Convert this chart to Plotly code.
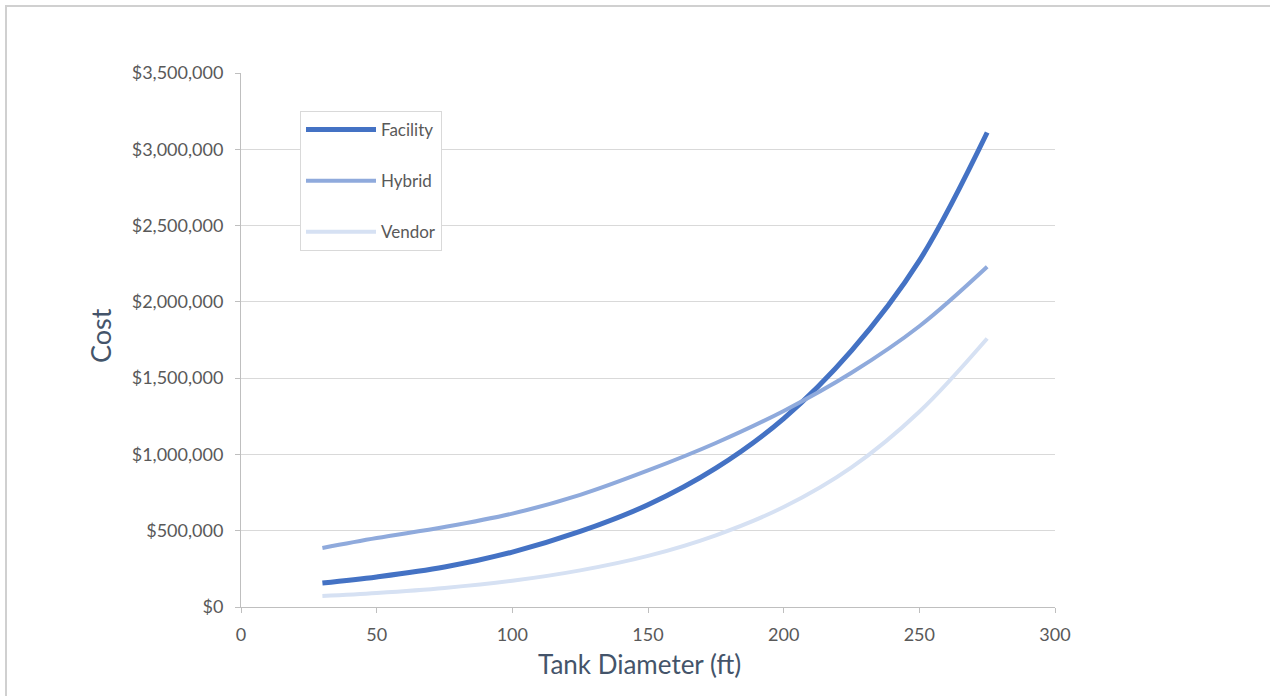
import plotly.graph_objects as go

diameter_ft = [30, 50, 75, 100, 125, 150, 175, 200, 225, 250, 275]
facility_cost = [157000, 197000, 262000, 360000, 495000, 670000, 910000, 1235000, 1680000, 2270000, 3110000]
hybrid_cost = [387000, 452000, 524000, 612000, 735000, 895000, 1075000, 1285000, 1535000, 1840000, 2230000]
vendor_cost = [72000, 92000, 125000, 172000, 240000, 335000, 470000, 655000, 915000, 1280000, 1760000]

series = [
    ("Facility", facility_cost, "#4472C4", 5),
    ("Hybrid", hybrid_cost, "#8FAADC", 4),
    ("Vendor", vendor_cost, "#D6E1F3", 4),
]

fig = go.Figure()
for i, (name, vals, color, w) in enumerate(series):
    fig.add_trace(go.Scatter(
        x=diameter_ft, y=vals, name=name, mode="lines",
        line=dict(color=color, width=w, shape="spline", smoothing=1.0),
        legendgroup=f"g{i}",
    ))

FONT = "Lato, Open Sans, sans-serif"
tick_font = dict(family=FONT, size=18, color="#595959")
fig.update_layout(
    width=1270, height=696,
    margin=dict(l=241, r=215, t=73, b=89),
    paper_bgcolor="white", plot_bgcolor="white",
    showlegend=True,
    legend=dict(
        x=(300 - 241) / 814, y=(607 - 111) / 534, xanchor="left", yanchor="top",
        bgcolor="white", bordercolor="#D9D9D9", borderwidth=1,
        font=dict(family=FONT, size=17, color="#595959"),
        tracegroupgap=26, itemwidth=70,
    ),
    xaxis=dict(
        range=[0, 300], dtick=50, tick0=0, showgrid=False,
        showline=True, linecolor="#BFBFBF", linewidth=1,
        ticks="outside", ticklen=5, tickcolor="#BFBFBF",
        tickfont=tick_font, zeroline=False, ticklabelstandoff=6,
    ),
    yaxis=dict(
        range=[0, 3500000], dtick=500000, tick0=0,
        showgrid=True, gridcolor="#D9D9D9", gridwidth=1,
        showline=True, linecolor="#BFBFBF", linewidth=1,
        ticks="outside", ticklen=5, tickcolor="#BFBFBF",
        tickprefix="$", tickformat=",.0f",
        tickfont=tick_font, zeroline=False, ticklabelstandoff=8,
    ),
    annotations=[
        dict(text="Cost", xref="paper", yref="paper",
             x=(100 - 241) / 814, y=(607 - 336) / 534, xanchor="center", yanchor="middle",
             showarrow=False, textangle=-90,
             font=dict(family=FONT, size=27, color="#44546A")),
        dict(text="Tank Diameter (ft)", xref="paper", yref="paper",
             x=(639 - 241) / 814, y=(607 - 664) / 534, xanchor="center", yanchor="middle",
             showarrow=False,
             font=dict(family=FONT, size=26, color="#44546A")),
    ],
    shapes=[
        dict(type="rect", xref="paper", yref="paper",
             x0=(6 - 241) / 814, x1=(1300 - 241) / 814,
             y0=(607 - 720) / 534, y1=(607 - 6) / 534,
             line=dict(color="#D0D0D0", width=2), fillcolor="rgba(0,0,0,0)", layer="below"),
    ],
)

fig.write_html("out.html")
